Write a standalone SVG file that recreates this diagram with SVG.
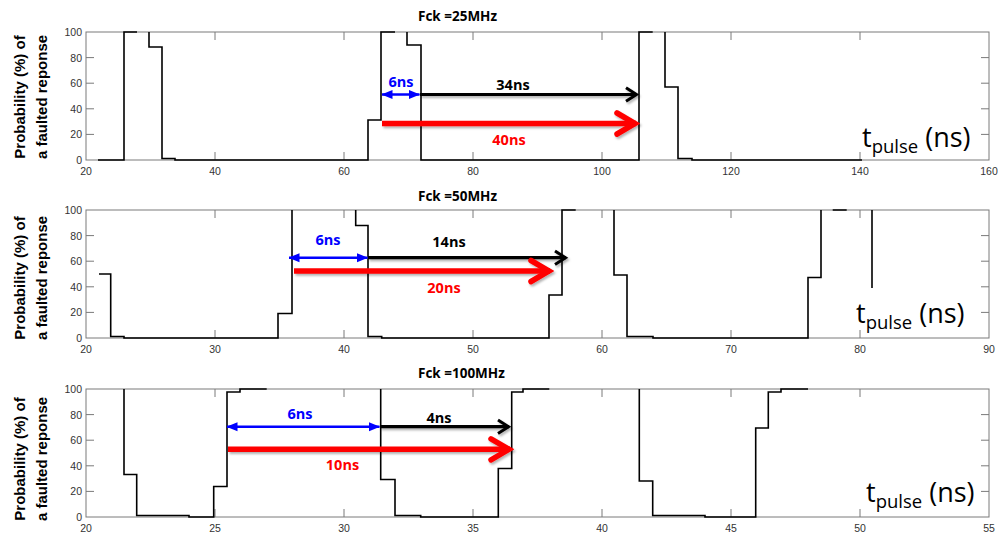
<svg xmlns="http://www.w3.org/2000/svg" xmlns:xlink="http://www.w3.org/1999/xlink" width="998" height="535" viewBox="0 0 998 535">
<style>
.axis{fill:none;stroke:#7a7a7a;stroke-width:1}
.tick{font-family:"Liberation Sans",Arial,sans-serif;font-size:10.5px;fill:#333}
.ty{text-anchor:end}
.tx{text-anchor:middle}
.ylab{font-family:"Liberation Sans",Arial,sans-serif;font-size:15px;font-weight:bold;fill:#000;text-anchor:middle}
.title{font-family:"Open Sans","Liberation Sans",sans-serif;font-size:13.5px;font-weight:bold;fill:#000}
.curve{fill:none;stroke:#000;stroke-width:1.6;stroke-linejoin:miter}
.lbl{font-family:"Open Sans","Liberation Sans",sans-serif;font-size:14.5px;font-weight:bold;text-anchor:middle}
.tp{font-family:"Open Sans","Noto Sans",sans-serif;font-size:27px;fill:#000}
.blue{stroke:#0000ff;stroke-width:2.5;fill:none}
.black{stroke:#000;stroke-width:3.2;fill:none}
.red{stroke:#ff0000;stroke-width:5.5;fill:none}
</style>
<defs>
<g id="axes">
<rect class="axis" x="0" y="0" width="903" height="128"/>
<path class="axis" d="M129,128v-8M258,128v-8M387,128v-8M516,128v-8M645,128v-8M774,128v-8M129,0v8M258,0v8M387,0v8M516,0v8M645,0v8M774,0v8M0,25.6h8M0,51.2h8M0,76.8h8M0,102.4h8M903,25.6h-8M903,51.2h-8M903,76.8h-8M903,102.4h-8"/>
</g>
<marker id="triB" markerUnits="userSpaceOnUse" viewBox="0 0 11 10" refX="10.5" refY="5" markerWidth="11" markerHeight="10" orient="auto-start-reverse">
<path d="M0,0.5L11,5L0,9.5z" fill="#0000ff"/>
</marker>
<marker id="chevK" markerUnits="userSpaceOnUse" viewBox="0 0 16 18" refX="13" refY="9" markerWidth="16" markerHeight="18" orient="auto">
<path d="M2,2.2L12.5,9L2,15.8" fill="none" stroke="#000" stroke-width="3"/>
</marker>
<marker id="chevR" markerUnits="userSpaceOnUse" viewBox="0 0 26 28" refX="22" refY="14" markerWidth="26" markerHeight="28" orient="auto">
<path d="M3,3.5L21,14L3,24.5" fill="none" stroke="#ff0000" stroke-width="5.5" stroke-linecap="round"/>
</marker>
<filter id="sh" filterUnits="userSpaceOnUse" x="0" y="0" width="998" height="535">
<feDropShadow dx="1.5" dy="2" stdDeviation="1.2" flood-color="#000" flood-opacity="0.3"/>
</filter>
</defs>

<g id="plot1">
<use xlink:href="#axes" href="#axes" transform="translate(86,32)"/>
<text class="title" x="418" y="21">Fck =25MHz</text>
<g class="tick">
<text class="ty" x="82" y="36">100</text><text class="ty" x="82" y="61.6">80</text><text class="ty" x="82" y="87.2">60</text><text class="ty" x="82" y="112.8">40</text><text class="ty" x="82" y="138.4">20</text><text class="ty" x="82" y="164">0</text>
<text class="tx" x="86" y="175">20</text><text class="tx" x="215" y="175">40</text><text class="tx" x="344" y="175">60</text><text class="tx" x="473" y="175">80</text><text class="tx" x="602" y="175">100</text><text class="tx" x="731" y="175">120</text><text class="tx" x="860" y="175">140</text><text class="tx" x="989" y="175">160</text>
</g>
<text class="ylab" transform="translate(25,97) rotate(-90)">Probability (%)  of</text>
<text class="ylab" transform="translate(46.5,97) rotate(-90)">a faulted reponse</text>
<path class="curve" d="M98,160H124V32H137M149,32V47H162V158.5H175V160H368V120H381V32H395M407,32V45H421V160H639V32H652.7M665,32V87H678V158.5H692V160H862"/>
<text class="tp" x="862" y="147">t<tspan font-size="18.5" dy="6">pulse</tspan><tspan dy="-6"> (ns)</tspan></text>
</g>

<g id="plot2">
<use xlink:href="#axes" href="#axes" transform="translate(86,210)"/>
<text class="title" x="418" y="201">Fck =50MHz</text>
<g class="tick">
<text class="ty" x="82" y="214">100</text><text class="ty" x="82" y="239.6">80</text><text class="ty" x="82" y="265.2">60</text><text class="ty" x="82" y="290.8">40</text><text class="ty" x="82" y="316.4">20</text><text class="ty" x="82" y="342">0</text>
<text class="tx" x="86" y="353">20</text><text class="tx" x="215" y="353">30</text><text class="tx" x="344" y="353">40</text><text class="tx" x="473" y="353">50</text><text class="tx" x="602" y="353">60</text><text class="tx" x="731" y="353">70</text><text class="tx" x="860" y="353">80</text><text class="tx" x="989" y="353">90</text>
</g>
<text class="ylab" transform="translate(25,278) rotate(-90)">Probability (%)  of</text>
<text class="ylab" transform="translate(46.5,278) rotate(-90)">a faulted reponse</text>
<path class="curve" d="M99,274H110.7V336.5H124V338H278V313.5H292V210M355.7,210V225.5H368V336.5H381.7V338H549V295H562V210H575.7M614,210V275H627V336.5H653V338H808V277.5H821V210M832.7,210H846.7M872,210V288"/>
<text class="tp" x="856" y="323">t<tspan font-size="18.5" dy="6">pulse</tspan><tspan dy="-6"> (ns)</tspan></text>
</g>

<g id="plot3">
<use xlink:href="#axes" href="#axes" transform="translate(86,389)"/>
<text class="title" x="418" y="378">Fck =100MHz</text>
<g class="tick">
<text class="ty" x="82" y="393">100</text><text class="ty" x="82" y="418.6">80</text><text class="ty" x="82" y="444.2">60</text><text class="ty" x="82" y="469.8">40</text><text class="ty" x="82" y="495.4">20</text><text class="ty" x="82" y="521">0</text>
<text class="tx" x="86" y="532">20</text><text class="tx" x="215" y="532">25</text><text class="tx" x="344" y="532">30</text><text class="tx" x="473" y="532">35</text><text class="tx" x="602" y="532">40</text><text class="tx" x="731" y="532">45</text><text class="tx" x="860" y="532">50</text><text class="tx" x="989" y="532">55</text>
</g>
<text class="ylab" transform="translate(25,459) rotate(-90)">Probability (%)  of</text>
<text class="ylab" transform="translate(46.5,459) rotate(-90)">a faulted reponse</text>
<path class="curve" d="M124,389V474.5H136.7V515.5H189V517H213.7V486.5H227V392H240V389H266.7M380.7,389V479.5H395V515.5H420.7V517H498.3V468.5H511.7V392H523V389H549.3M639.3,389V481H652.7V515.5H705V517H755.7V428H768.3V392H781V389H808"/>
<text class="tp" x="866" y="502">t<tspan font-size="18.5" dy="6">pulse</tspan><tspan dy="-6"> (ns)</tspan></text>
</g>

<g id="connectors">
<path class="blue" d="M382,94.5H419.5" marker-start="url(#triB)" marker-end="url(#triB)"/>
<path class="black" d="M420,94.5H637" marker-end="url(#chevK)" filter="url(#sh)"/>
<path class="red" d="M382,123.5H636" marker-end="url(#chevR)" filter="url(#sh)"/>
<path class="blue" d="M289,257.7H367.5" marker-start="url(#triB)" marker-end="url(#triB)"/>
<path class="black" d="M368,257.7H566" marker-end="url(#chevK)" filter="url(#sh)"/>
<path class="red" d="M294,271H550" marker-end="url(#chevR)" filter="url(#sh)"/>
<path class="blue" d="M227,426.7H379.5" marker-start="url(#triB)" marker-end="url(#triB)"/>
<path class="black" d="M380,426.7H509" marker-end="url(#chevK)" filter="url(#sh)"/>
<path class="red" d="M228,449.3H510" marker-end="url(#chevR)" filter="url(#sh)"/>
</g>
<g id="labels">
<text class="lbl" x="401" y="86.5" fill="#0000ff">6ns</text>
<text class="lbl" x="513" y="90" fill="#000">34ns</text>
<text class="lbl" x="509" y="145" fill="#ff0000">40ns</text>
<text class="lbl" x="328" y="245" fill="#0000ff">6ns</text>
<text class="lbl" x="449" y="246.7" fill="#000">14ns</text>
<text class="lbl" x="444" y="293" fill="#ff0000">20ns</text>
<text class="lbl" x="300" y="419" fill="#0000ff">6ns</text>
<text class="lbl" x="439" y="422.7" fill="#000">4ns</text>
<text class="lbl" x="342.5" y="470" fill="#ff0000">10ns</text>
</g>
</svg>
